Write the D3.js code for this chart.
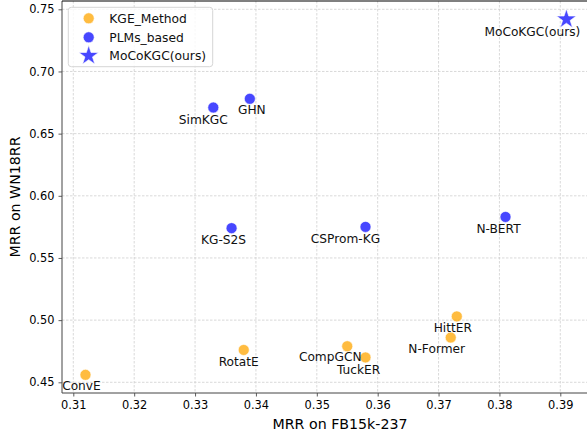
<!DOCTYPE html>
<html>
<head>
<meta charset="utf-8">
<script src="https://cdn.jsdelivr.net/npm/d3@7"></script>
<style>
  html, body { margin: 0; padding: 0; background: #fff; }
  svg { display: block; font-family: "DejaVu Sans", sans-serif; }
</style>
</head>
<body>
<svg id="chart" width="587" height="434"></svg>
<script>
// Methods and their MRR on the two benchmarks
const methods = ["ConvE", "RotatE", "TuckER", "CompGCN", "HittER", "N-Former",
                 "KG-S2S", "SimKGC", "GHN", "CSProm-KG", "N-BERT", "MoCoKGC(ours)"];
const fb15kMRR = [0.312, 0.338, 0.358, 0.355, 0.373, 0.372,
                  0.336, 0.333, 0.339, 0.358, 0.381, 0.391];
const wn18rrMRR = [0.456, 0.476, 0.470, 0.479, 0.503, 0.486,
                   0.574, 0.671, 0.678, 0.575, 0.583, 0.742];
const groups = ["KGE_Method", "KGE_Method", "KGE_Method", "KGE_Method", "KGE_Method", "KGE_Method",
                "PLMs_based", "PLMs_based", "PLMs_based", "PLMs_based", "PLMs_based", "MoCoKGC(ours)"];

// Label placement relative to each marker (pixels)
const labelDx = [-4, -5, -7, -17, -4, -14, -8, -10, 2, -20, -7, -34];
const labelDy = [11, 12, 12.5, 10, 11, 11, 12, 12, 11, 12, 12, 12];

const legendLabels = ["KGE_Method", "PLMs_based", "MoCoKGC(ours)"];
const xTicks = [0.31, 0.32, 0.33, 0.34, 0.35, 0.36, 0.37, 0.38, 0.39];
const yTicks = [0.45, 0.50, 0.55, 0.60, 0.65, 0.70, 0.75];

const colors = {
  "KGE_Method": "rgba(255,165,0,0.75)",
  "PLMs_based": "rgba(0,0,255,0.72)",
  "MoCoKGC(ours)": "rgba(0,0,255,0.72)"
};

const svg = d3.select("#chart");
const plotLeft = 62, plotRight = 618, plotTop = 1, plotBottom = 393;

const x = d3.scaleLinear().domain([0.31, 0.39]).range([73.3, 560.3]);
const y = d3.scaleLinear().domain([0.45, 0.75]).range([382.3, 9.3]);

// grid
const grid = svg.append("g");
grid.selectAll("line.gx").data(xTicks).join("line")
  .attr("x1", d => x(d)).attr("x2", d => x(d))
  .attr("y1", plotTop).attr("y2", plotBottom)
  .attr("stroke", "#cfcfcf").attr("stroke-width", 0.8).attr("stroke-dasharray", "2.5,1.5");
grid.selectAll("line.gy").data(yTicks).join("line")
  .attr("x1", plotLeft).attr("x2", plotRight)
  .attr("y1", d => y(d)).attr("y2", d => y(d))
  .attr("stroke", "#cfcfcf").attr("stroke-width", 0.8).attr("stroke-dasharray", "2.5,1.5");

// axes
const xAxis = svg.append("g").attr("transform", `translate(0,${plotBottom})`)
  .call(d3.axisBottom(x).tickValues(xTicks).tickFormat(d3.format(".2f")).tickSizeOuter(0).tickSize(3.5).tickPadding(4));
const yAxis = svg.append("g").attr("transform", `translate(${plotLeft},0)`)
  .call(d3.axisLeft(y).tickValues(yTicks).tickFormat(d3.format(".2f")).tickSizeOuter(0).tickSize(3.5).tickPadding(4));
[xAxis, yAxis].forEach(g => {
  g.select(".domain").remove();
  g.selectAll("text").attr("font-size", 11.4).attr("fill", "#000").attr("font-family", "DejaVu Sans");
  g.selectAll("line").attr("stroke", "#333").attr("stroke-width", 0.8);
});

// spines
svg.append("line").attr("x1", plotLeft).attr("x2", plotLeft).attr("y1", plotTop).attr("y2", plotBottom)
  .attr("stroke", "#444").attr("stroke-width", 1);
svg.append("line").attr("x1", plotLeft).attr("x2", plotRight).attr("y1", plotBottom).attr("y2", plotBottom)
  .attr("stroke", "#444").attr("stroke-width", 1);
svg.append("line").attr("x1", plotLeft).attr("x2", plotRight).attr("y1", plotTop).attr("y2", plotTop)
  .attr("stroke", "#000").attr("stroke-width", 1);

// axis titles
svg.append("text").attr("x", 340).attr("y", 429).attr("text-anchor", "middle")
  .attr("font-size", 14.2).text("MRR on FB15k-237");
svg.append("text").attr("transform", `translate(20,197) rotate(-90)`).attr("text-anchor", "middle")
  .attr("font-size", 14.2).text("MRR on WN18RR");

const pts = methods.map((m, i) => ({ m, fx: fb15kMRR[i], wy: wn18rrMRR[i], g: groups[i], dx: labelDx[i], dy: labelDy[i] }));

const circleSym = d3.symbol().type(d3.symbolCircle).size(95);
const starSym = d3.symbol().type(d3.symbolStar).size(120);

svg.append("g").selectAll("path").data(pts).join("path")
  .attr("transform", d => `translate(${x(d.fx)},${y(d.wy)})`)
  .attr("d", d => d.g === "MoCoKGC(ours)" ? starSym() : circleSym())
  .attr("fill", d => colors[d.g])
  .attr("stroke", "#fff").attr("stroke-width", 0.6);

svg.append("g").selectAll("text").data(pts).join("text")
  .attr("x", d => x(d.fx) + d.dx).attr("y", d => y(d.wy) + d.dy)
  .attr("dy", "0.35em").attr("text-anchor", "middle")
  .attr("font-size", 12.2).attr("fill", "#111").text(d => d.m);

// legend
const lg = svg.append("g");
lg.append("rect").attr("x", 68.3).attr("y", 7.3).attr("width", 144.4).attr("height", 59.4)
  .attr("rx", 3).attr("fill", "rgba(255,255,255,0.8)").attr("stroke", "#d6d6d6").attr("stroke-width", 1);
const legendY = [18.3, 37.3, 55.7];
legendLabels.forEach((lab, i) => {
  lg.append("path").attr("transform", `translate(88.7,${legendY[i]})`)
    .attr("d", lab === "MoCoKGC(ours)" ? starSym() : circleSym())
    .attr("fill", colors[lab]).attr("stroke", "#fff").attr("stroke-width", 0.6);
  lg.append("text").attr("x", 109.3).attr("y", legendY[i]).attr("dy", "0.35em")
    .attr("font-size", 12.3).attr("fill", "#111").text(lab);
});
</script>
</body>
</html>
